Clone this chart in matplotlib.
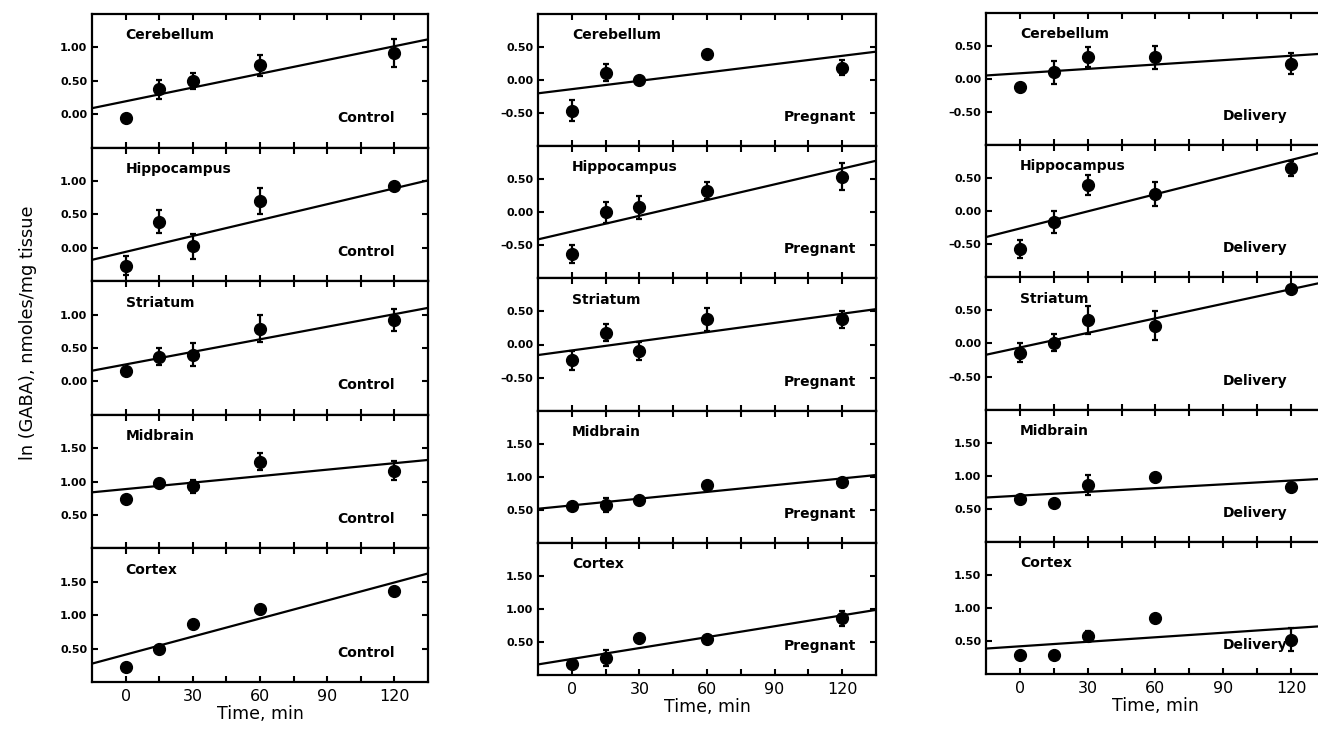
import numpy as np
import matplotlib
matplotlib.use('Agg')
import matplotlib.pyplot as plt
from matplotlib.ticker import FuncFormatter

# Data
times = [0, 15, 30, 60, 120]
regions = ['Cerebellum', 'Hippocampus', 'Striatum', 'Midbrain', 'Cortex']
groups = ['Control', 'Pregnant', 'Delivery']

# rows = regions, cols = times
control_mean = [[-0.05, 0.37, 0.50, 0.73, 0.91],
                [-0.27, 0.39, 0.02, 0.70, 0.92],
                [0.16, 0.37, 0.40, 0.79, 0.92],
                [0.74, 0.975, 0.93, 1.30, 1.165],
                [0.225, 0.50, 0.875, 1.09, 1.365]]
control_err = [[0, 0.14, 0.12, 0.16, 0.21],
               [0.14, 0.17, 0.19, 0.20, 0],
               [0, 0.13, 0.17, 0.20, 0.16],
               [0, 0, 0.10, 0.13, 0.14],
               [0, 0, 0, 0, 0]]
control_intercept = [0.193, -0.061, 0.254, 0.888, 0.41]
control_slope = [0.00687, 0.00793, 0.00627, 0.00323, 0.0090]

pregnant_mean = [[-0.46, 0.11, 0.00, 0.40, 0.19],
                 [-0.63, 0.00, 0.075, 0.325, 0.54],
                 [-0.24, 0.18, -0.095, 0.38, 0.38],
                 [0.55, 0.575, 0.65, 0.875, 0.925],
                 [0.16, 0.26, 0.565, 0.55, 0.86]]
pregnant_err = [[0.16, 0.13, 0, 0, 0.11],
                [0.13, 0.16, 0.17, 0.13, 0.20],
                [0.14, 0.13, 0.14, 0.17, 0.13],
                [0, 0.11, 0, 0, 0],
                [0, 0.12, 0, 0, 0.115]]
pregnant_intercept = [-0.137, -0.291, -0.09, 0.566, 0.2425]
pregnant_slope = [0.0042, 0.00793, 0.00463, 0.0034, 0.0055]

delivery_mean = [[-0.125, 0.10, 0.33, 0.33, 0.23],
                 [-0.57, -0.165, 0.40, 0.26, 0.65],
                 [-0.14, 0.01, 0.35, 0.27, 0.82],
                 [0.65, 0.585, 0.865, 0.985, 0.825],
                 [0.29, 0.295, 0.575, 0.84, 0.52]]
delivery_err = [[0, 0.17, 0.15, 0.17, 0.16],
                [0.14, 0.17, 0.15, 0.18, 0.11],
                [0.14, 0.13, 0.21, 0.22, 0],
                [0, 0, 0.15, 0, 0],
                [0, 0, 0.08, 0, 0.17]]
delivery_intercept = [0.088, -0.26, -0.06, 0.6985, 0.419]
delivery_slope = [0.00221, 0.00864, 0.00735, 0.0019, 0.00228]

means = [control_mean, pregnant_mean, delivery_mean]
errs = [control_err, pregnant_err, delivery_err]
intercepts = [control_intercept, pregnant_intercept, delivery_intercept]
slopes = [control_slope, pregnant_slope, delivery_slope]

W, H = 1318, 729
fig = plt.figure(figsize=(W / 100, H / 100), dpi=100)

# column boxes in pixels: left, right, top, bottom
col_box = [(92, 428, 14, 682), (538, 876, 14, 675), (986, 1325, 13, 674)]
label_x = [0.90, 0.94, 0.89]


def fmt(v, pos):
    return ('%.2f' % v).replace('-', '\u2013')


xgrid = np.array([-15, 135])
for c, grp in enumerate(groups):
    l, r, t, b = col_box[c]
    ph = (b - t) / 5
    for i, reg in enumerate(regions):
        top = t + i * ph
        ax = fig.add_axes([l / W, 1 - (top + ph) / H, (r - l) / W, ph / H])
        m = np.array(means[c][i])
        e = np.array(errs[c][i])
        ax.errorbar(times, m, yerr=e, fmt='o', color='black', ms=8.5,
                    elinewidth=1.6, capsize=2, capthick=1.6)
        ax.plot(xgrid, intercepts[c][i] + slopes[c][i] * xgrid,
                color='black', lw=1.6)
        ax.set_xlim(-15, 135)
        if i < 3:
            if c == 0:
                ax.set_ylim(-0.5, 1.5)
                ax.set_yticks([0, 0.5, 1.0])
            else:
                ax.set_ylim(-1.0, 1.0)
                ax.set_yticks([-0.5, 0, 0.5])
        else:
            ax.set_ylim(0, 2.0)
            ax.set_yticks([0.5, 1.0, 1.5])
        ax.yaxis.set_major_formatter(FuncFormatter(fmt))
        ax.set_xticks(np.arange(0, 121, 15))
        ax.tick_params(direction='in', length=4, width=1.5, top=True,
                       right=True, labelsize=8)
        for lab in ax.get_yticklabels():
            lab.set_fontweight('bold')
        for s in ax.spines.values():
            s.set_linewidth(1.6)
        if i == 4:
            ax.set_xticklabels(['0', '', '30', '', '60', '', '90', '', '120'],
                               fontsize=11.5)
            ax.tick_params(axis='x', pad=5)
            ax.set_xlabel('Time, min', fontsize=12.5, labelpad=1)
        else:
            ax.set_xticklabels([])
        ax.text(0.1, 0.84, reg, transform=ax.transAxes, fontsize=10,
                fontweight='bold', ha='left', va='center')
        ax.text(label_x[c], 0.22, grp, transform=ax.transAxes, fontsize=10,
                fontweight='bold', ha='right', va='center')

fig.text(28 / W, 1 - 333 / H, 'ln (GABA), nmoles/mg tissue', rotation=90,
         fontsize=12.8, ha='center', va='center')

fig.savefig('out.png', dpi=100)
